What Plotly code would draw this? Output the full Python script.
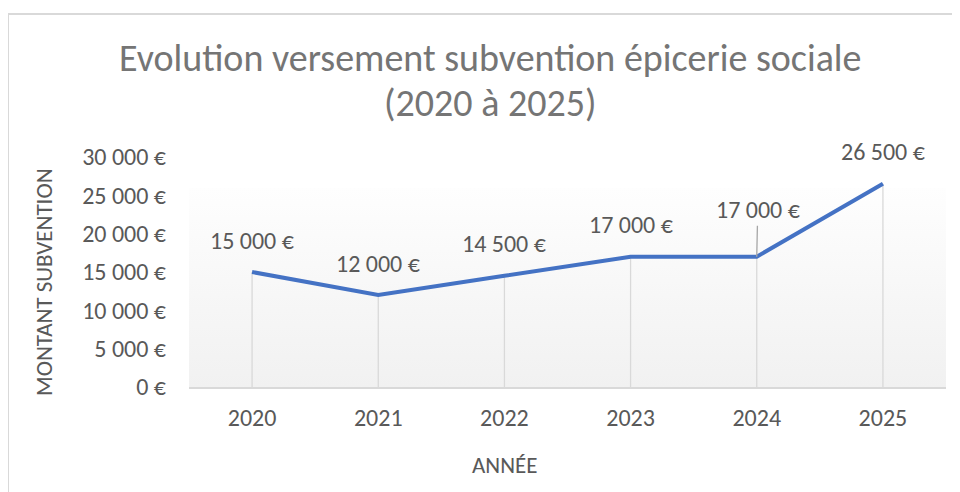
import plotly.graph_objects as go

# ---- data ----
years = [2020, 2021, 2022, 2023, 2024, 2025]
montants = [15000, 12000, 14500, 17000, 17000, 26500]
labels = ["15 000 €", "12 000 €", "14 500 €", "17 000 €", "17 000 €", "26 500 €"]
ytick_vals = [0, 5000, 10000, 15000, 20000, 25000, 30000]
ytick_text = ["0 €", "5 000 €", "10 000 €", "15 000 €", "20 000 €", "25 000 €", "30 000 €"]
title_lines = ["Evolution versement subvention épicerie sociale", "(2020 à 2025)"]
x_title = "ANNÉE"
y_title = "MONTANT SUBVENTION"

FONT = "Carlito, Calibri, Lato, sans-serif"
TXT = "#595959"
OFF = 8  # page body margin
W, H = 960 - OFF, 492 - OFF
# plot area in page pixels: x 189..946, y 157..387
PL, PR, PT, PB = 189, 946, 157, 387
L, T = PL - OFF, PT - OFF
R, B = W - (PR - OFF), H - (PB - OFF)
PW, PH = PR - PL, PB - PT

def px_x(p):
    return (p - PL) / PW

def px_y(p):
    return (PB - p) / PH

fig = go.Figure()

x_lo, x_hi = years[0] - 0.5, years[-1] + 0.5
grad_top = 26000
# gradient background of the plot area
fig.add_trace(go.Scatter(
    x=[x_lo, x_hi, x_hi, x_lo, x_lo], y=[0, 0, grad_top, grad_top, 0],
    fill="toself", mode="none", hoverinfo="skip", showlegend=False,
    fillgradient=dict(type="vertical", colorscale=[[0, "#F1F1F1"], [1, "#FEFEFE"]]),
))

# drop lines
dx, dy = [], []
for x, v in zip(years, montants):
    dx += [x, x, None]
    dy += [0, v, None]
fig.add_trace(go.Scatter(x=dx, y=dy, mode="lines", line=dict(color="#D9D9D9", width=1.3),
                         hoverinfo="skip", showlegend=False))

# main line
fig.add_trace(go.Scatter(x=years, y=montants, mode="lines",
                         line=dict(color="#4472C4", width=4), showlegend=False))

LBL = 24
# data labels
for i, (x, v, t) in enumerate(zip(years, montants, labels)):
    if i == 4:
        fig.add_annotation(x=x, y=v, text=t, showarrow=True, arrowhead=0, arrowwidth=1.3,
                           arrowcolor="#A6A6A6", ax=1, ay=-47, standoff=0,
                           font=dict(family=FONT, size=LBL, color=TXT))
    else:
        fig.add_annotation(x=x, y=v, text=t, showarrow=False, yshift=32,
                           font=dict(family=FONT, size=LBL, color=TXT))

# titles
TS = 38
fig.add_annotation(xref="paper", yref="paper", x=px_x(490), y=px_y(58), text=title_lines[0],
                   showarrow=False, xanchor="center", yanchor="middle",
                   font=dict(family=FONT, size=TS, color="#757575"))
fig.add_annotation(xref="paper", yref="paper", x=px_x(490), y=px_y(103), text=title_lines[1],
                   showarrow=False, xanchor="center", yanchor="middle",
                   font=dict(family=FONT, size=TS, color="#757575"))
fig.add_annotation(xref="paper", yref="paper", x=px_x(504), y=px_y(465), text=x_title,
                   showarrow=False, xanchor="center", yanchor="middle",
                   font=dict(family=FONT, size=23, color=TXT))
fig.add_annotation(xref="paper", yref="paper", x=px_x(44), y=px_y(283), text=y_title,
                   showarrow=False, xanchor="center", yanchor="middle", textangle=-90,
                   font=dict(family=FONT, size=23, color=TXT))

# chart border
fig.add_shape(type="rect", xref="paper", yref="paper",
              x0=px_x(8), x1=px_x(1000), y0=px_y(14), y1=px_y(520),
              line=dict(color="#D9D9D9", width=2), fillcolor="rgba(0,0,0,0)", layer="below")

fig.update_layout(
    width=W, height=H,
    margin=dict(l=L, r=R, t=T, b=B),
    paper_bgcolor="white", plot_bgcolor="white",
    font=dict(family=FONT, color=TXT),
    xaxis=dict(range=[x_lo, x_hi], tickvals=years, ticktext=[str(y) for y in years],
               showgrid=False, zeroline=False, showline=True, linecolor="#D9D9D9", linewidth=1.5,
               ticks="", ticklabelstandoff=8, tickfont=dict(family=FONT, size=24, color=TXT),
               fixedrange=True),
    yaxis=dict(range=[0, 30000], tickvals=ytick_vals, ticktext=ytick_text,
               showgrid=False, zeroline=False, showline=False, ticks="",
               ticklabelstandoff=22, tickfont=dict(family=FONT, size=24, color=TXT),
               fixedrange=True),
    showlegend=False,
)

fig.write_html("out.html")
